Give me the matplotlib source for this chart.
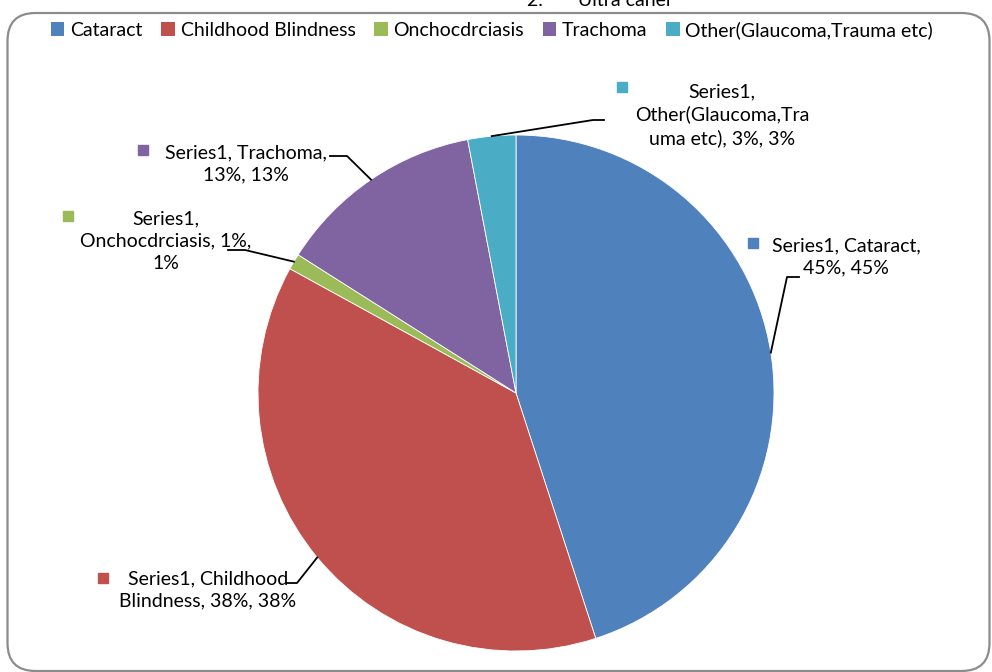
import numpy as np
import matplotlib.pyplot as plt
from matplotlib.patches import FancyBboxPatch, Patch

# data
categories = ['Cataract', 'Childhood Blindness', 'Onchocdrciasis', 'Trachoma',
              'Other(Glaucoma,Trauma etc)']
values = [45, 38, 1, 13, 3]
colors = ['#4F81BD', '#C0504D', '#9BBB59', '#8064A2', '#4BACC6']
label_texts = ['Series1, Cataract,\n45%, 45%',
               'Series1, Childhood\nBlindness, 38%, 38%',
               'Series1,\nOnchocdrciasis, 1%,\n1%',
               'Series1, Trachoma,\n13%, 13%',
               'Series1,\nOther(Glaucoma,Tra\numa etc), 3%, 3%']

plt.rcParams['font.family'] = ['Lato', 'DejaVu Sans']
W, H = 992, 672
fig = plt.figure(figsize=(W / 100, H / 100), dpi=100)

# rounded chart border (inches)
fig.patches.append(FancyBboxPatch((0.075, 0.01), 9.82, 6.58,
                                  boxstyle='round,pad=0,rounding_size=0.28',
                                  transform=fig.dpi_scale_trans, fc='none',
                                  ec='#8c8c8c', lw=1.6))

# clipped title from the page above
fig.text(600 / W, 1.0, '2.       Ultra caner', ha='center', va='center',
         fontsize=14)

cx, cy, r = 516, 393, 258
ax = fig.add_axes([(cx - r) / W, (H - cy - r) / H, 2 * r / W, 2 * r / H])
wedges, _ = ax.pie(values, colors=colors, startangle=90, counterclock=False,
                   radius=1, wedgeprops=dict(edgecolor='white', linewidth=0.6))
ax.set_xlim(-1, 1)
ax.set_ylim(-1, 1)
ax.set_aspect('equal')
ax.axis('off')


def px(x, y):
    return (x - cx) / r, (cy - y) / r


# leader line elbows and label placement (pixel positions)
elbows = [[(787, 277), (799, 277)],
          [(297, 583), (287, 583)],
          [(245, 250), (228, 250)],
          [(347, 156), (330, 156)],
          [(593, 120), (604, 120)]]
text_pos = [(846, 257), (208, 590), (166, 241), (246, 164), (722, 115)]
marker_pos = [(753, 243), (103, 578), (68, 216), (143, 150), (622, 87)]

for w, el, tp, mp, txt, col in zip(wedges, elbows, text_pos, marker_pos,
                                   label_texts, colors):
    mid = np.deg2rad((w.theta1 + w.theta2) / 2)
    pts = [(np.cos(mid), np.sin(mid))] + [px(*p) for p in el]
    xs, ys = zip(*pts)
    ax.plot(xs, ys, color='black', lw=1.3, clip_on=False, zorder=3)
    ax.text(*px(*tp), txt, ha='center', va='center', fontsize=14,
            linespacing=1.38, clip_on=False, zorder=4)
    ax.plot(*px(*mp), marker='s', ms=7.5, color=col, clip_on=False, zorder=4)

handles = [Patch(facecolor=c, edgecolor='none') for c in colors]
fig.legend(handles, categories, loc='center', bbox_to_anchor=(492 / W, 1 - 30 / H),
           ncol=5, frameon=False, fontsize=14, handlelength=0.7,
           handleheight=0.7, handletextpad=0.3, columnspacing=0.95)

fig.savefig('out.png', dpi=100)
